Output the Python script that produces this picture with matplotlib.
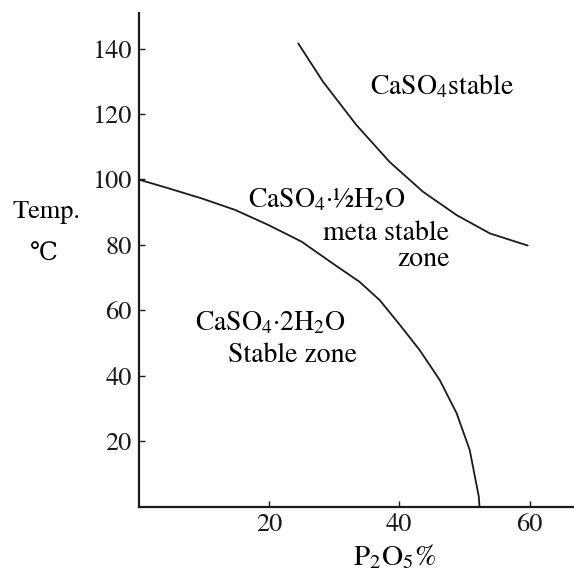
import matplotlib
matplotlib.use("Agg")
import matplotlib.pyplot as plt

plt.rcParams['font.family'] = ['STIXGeneral', 'DejaVu Serif', 'DejaVu Sans']
plt.rcParams['mathtext.fontset'] = 'stix'

# Dihydrate / hemihydrate boundary (P2O5 %, Temp °C)
lower_p = [0.0, 4.6, 9.7, 14.8, 19.9, 25.0, 30.1, 33.9, 37.0, 40.1,
           43.1, 46.2, 48.8, 50.8, 52.2, 52.3]
lower_t = [100.0, 97.3, 94.2, 90.7, 86.1, 81.0, 73.9, 68.7, 63.1, 55.5,
           47.9, 38.7, 28.5, 17.3, 3.0, 0.0]

# Hemihydrate / anhydrite boundary
upper_p = [24.5, 28.3, 33.4, 38.5, 43.6, 48.8, 53.9, 59.7]
upper_t = [141.6, 129.9, 116.7, 105.4, 96.3, 89.1, 83.5, 79.8]

x_ticks = [20, 40, 60]
y_ticks = [20, 40, 60, 80, 100, 120, 140]

fig = plt.figure(figsize=(5.74, 5.75), dpi=100)
W, H = 574, 575
ax = fig.add_axes([138.5 / W, (H - 506.5) / H, (W - 138.5) / W, (506.5 - 13) / H])

for px, ty in ((lower_p, lower_t), (upper_p, upper_t)):
    ax.plot(px, ty, color='#1a1a1a', lw=1.3, solid_joinstyle='round',
            solid_capstyle='round')

ax.set_xlim(0, 66.8)
ax.set_ylim(0, 150.9)
ax.spines['top'].set_visible(False)
ax.spines['right'].set_visible(False)
for s in ('left', 'bottom'):
    ax.spines[s].set_linewidth(1.6)
    ax.spines[s].set_color('#1a1a1a')

ax.set_xticks(x_ticks)
ax.set_yticks(y_ticks)
ax.set_xticklabels([str(v) for v in x_ticks])
ax.set_yticklabels([str(v) for v in y_ticks])
ax.tick_params(direction='in', length=4, width=1.0, labelsize=19,
               colors='#1a1a1a', pad=5)

fs = 20
ax.text(35.5, 128.3, r'CaSO$_4$stable', fontsize=fs, ha='left', va='center')
ax.text(16.8, 93.7, r'CaSO$_4$·½H$_2$O', fontsize=fs, ha='left', va='center')
ax.text(47.7, 83.6, 'meta stable', fontsize=fs, ha='right', va='center')
ax.text(47.7, 75.4, 'zone', fontsize=fs, ha='right', va='center')
ax.text(8.7, 56.1, r'CaSO$_4$·2H$_2$O', fontsize=fs, ha='left', va='center')
ax.text(13.7, 46.3, 'Stable zone', fontsize=fs, ha='left', va='center')

fig.text(46.5 / W, 1 - 212 / H, 'Temp.', fontsize=19, ha='center', va='center')
fig.text(44 / W, 1 - 255 / H, '℃', fontsize=18, ha='center', va='center')
fig.text(395 / W, 1 - 557 / H, r'P$_2$O$_5$%', fontsize=21, ha='center', va='center')

fig.savefig('out.png', dpi=100)
